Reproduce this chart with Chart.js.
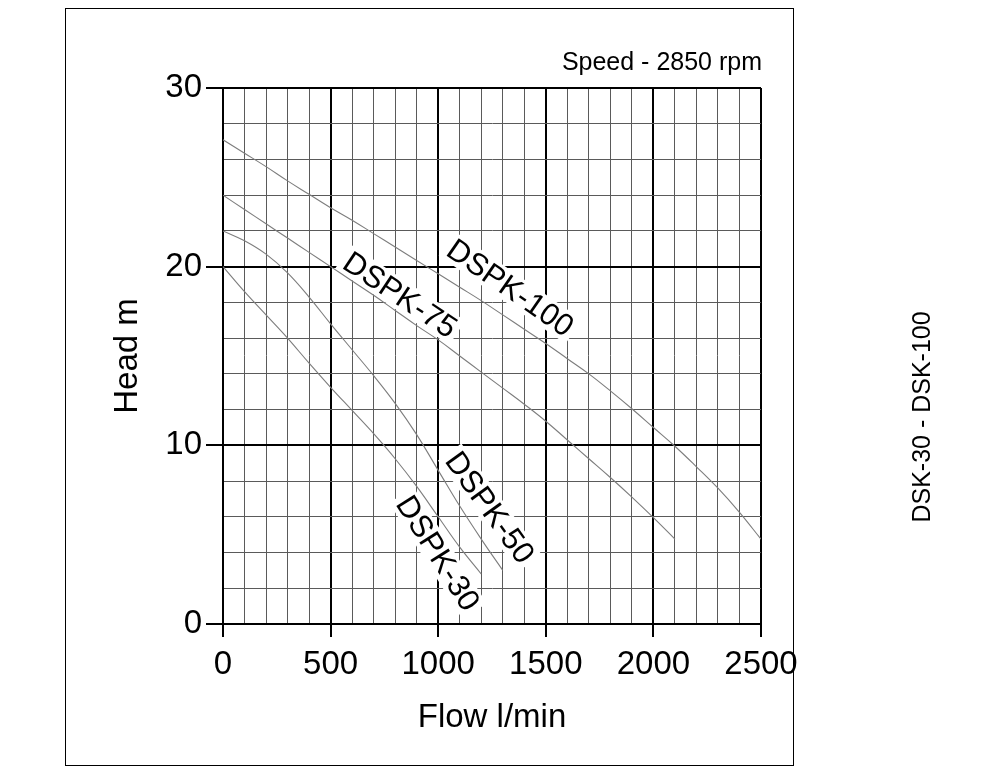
<!DOCTYPE html>
<html><head><meta charset="utf-8">
<script src="https://cdn.jsdelivr.net/npm/chart.js@4/dist/chart.umd.min.js"></script>
<style>html,body{margin:0;padding:0;background:#fff}canvas{display:block}</style>
</head><body>
<canvas id="c" width="1000" height="772"></canvas>
<script>
// ---- data ----
const seriesNames = ['DSPK-30', 'DSPK-50', 'DSPK-75', 'DSPK-100'];

const flow30 = [0, 100, 200, 300, 400, 500, 600, 700, 800, 900, 1000, 1100, 1200];
const head30 = [20.0, 18.6, 17.3, 16.0, 14.6, 13.25, 11.95, 10.65, 9.25, 7.7, 6.0, 4.3, 2.8];

const flow50 = [0, 100, 200, 300, 400, 500, 600, 700, 800, 900, 1000, 1100, 1200, 1300];
const head50 = [22.0, 21.45, 20.7, 19.65, 18.3, 16.8, 15.35, 13.9, 12.35, 10.6, 8.6, 6.6, 4.75, 3.0];

const flow75 = [0, 100, 200, 300, 400, 500, 600, 700, 800, 900, 1000, 1100, 1200, 1300, 1400, 1500, 1600, 1700, 1800, 1900, 2000, 2100];
const head75 = [24.0, 23.2, 22.4, 21.6, 20.8, 20.0, 19.2, 18.4, 17.55, 16.7, 15.9, 15.0, 14.1, 13.2, 12.3, 11.35, 10.3, 9.25, 8.2, 7.1, 5.95, 4.75];

const flow100 = [0, 100, 200, 300, 400, 500, 600, 700, 800, 900, 1000, 1100, 1200, 1300, 1400, 1500, 1600, 1700, 1800, 1900, 2000, 2100, 2200, 2300, 2400, 2500];
const head100 = [27.1, 26.35, 25.6, 24.8, 24.05, 23.3, 22.6, 21.85, 21.1, 20.35, 19.6, 18.85, 18.1, 17.3, 16.5, 15.7, 14.85, 14.0, 13.05, 12.05, 11.0, 9.95, 8.8, 7.6, 6.25, 4.75];

const xTickLabels = [0, 500, 1000, 1500, 2000, 2500];
const yTickLabels = [0, 10, 20, 30];

// curve label anchors (in data units) and text angles
const labelFlow = [997, 1238, 822, 1334];
const labelHead = [3.95, 6.5, 18.4, 18.8];
const labelAngle = [57.8, 54.2, 33.7, 34.8];

const speedText = 'Speed - 2850 rpm';
const sideText = 'DSK-30 - DSK-100';
const xTitle = 'Flow l/min';
const yTitle = 'Head m';

// ---- chart ----
const FONT = '"Liberation Sans", Arial, Helvetica, sans-serif';
const toPts = (xs, ys) => xs.map((v, i) => ({x: v, y: ys[i]}));
const flows = [flow30, flow50, flow75, flow100];
const heads = [head30, head50, head75, head100];

const curveLabels = {
  id: 'curveLabels',
  beforeDatasetsDraw(chart) {
    const {ctx, scales: {x, y}} = chart;
    ctx.save();
    ctx.font = '31px ' + FONT;
    ctx.textAlign = 'center';
    ctx.textBaseline = 'middle';
    seriesNames.forEach((n, i) => {
      const px = x.getPixelForValue(labelFlow[i]);
      const py = y.getPixelForValue(labelHead[i]);
      ctx.save();
      ctx.translate(px, py);
      ctx.rotate(labelAngle[i] * Math.PI / 180);
      const w = ctx.measureText(n).width;
      ctx.fillStyle = '#fff';
      ctx.fillRect(-w / 2 - 4, -15, w + 8, 29);
      ctx.fillStyle = '#000';
      ctx.fillText(n, 0, 1);
      ctx.restore();
    });
    ctx.restore();
  }
};

const extras = {
  id: 'extras',
  afterDraw(chart) {
    const {ctx, chartArea} = chart;
    ctx.save();
    ctx.fillStyle = '#000';
    ctx.font = '25px ' + FONT;
    ctx.textAlign = 'right';
    ctx.textBaseline = 'alphabetic';
    ctx.fillText(speedText, chartArea.right + 1, chartArea.top - 18);
    ctx.save();
    ctx.translate(930, 417);
    ctx.rotate(-Math.PI / 2);
    ctx.font = '25px ' + FONT;
    ctx.textAlign = 'center';
    ctx.fillText(sideText, 0, 0);
    ctx.restore();
    ctx.strokeStyle = '#000';
    ctx.lineWidth = 1;
    ctx.strokeRect(65.5, 8.5, 728, 757);
    ctx.restore();
  }
};

new Chart(document.getElementById('c'), {
  type: 'line',
  data: {
    datasets: seriesNames.map((n, i) => ({
      label: n,
      data: toPts(flows[i], heads[i]),
      borderColor: '#7d7d7d',
      borderWidth: 1.1,
      pointRadius: 0,
      fill: false,
      tension: 0.4
    }))
  },
  options: {
    responsive: false,
    animation: false,
    devicePixelRatio: 1,
    layout: {padding: {left: 0, top: 88, right: 239, bottom: 0}},
    plugins: {legend: {display: false}, tooltip: {enabled: false}},
    scales: {
      x: {
        type: 'linear', min: 0, max: 2500,
        ticks: {
          stepSize: 100, autoSkip: false, maxRotation: 0, minRotation: 0,
          color: '#000', font: {family: FONT, size: 33}, padding: 8,
          callback: v => xTickLabels.includes(v) ? String(v) : ''
        },
        grid: {
          color: c => (c.tick && c.tick.value % 500 === 0) ? '#000' : '#5a5a5a',
          lineWidth: c => (c.tick && c.tick.value % 500 === 0) ? 2 : 1,
          tickColor: c => (c.tick && c.tick.value % 500 === 0) ? '#000' : 'rgba(0,0,0,0)',
          tickLength: 13, tickWidth: 2
        },
        border: {color: '#000', width: 2},
        title: {display: true, text: xTitle, color: '#000', font: {family: FONT, size: 33}, padding: {top: 0, bottom: 34}},
        afterFit(s) { s.height = 148; }
      },
      y: {
        type: 'linear', min: 0, max: 30,
        ticks: {
          stepSize: 2, autoSkip: false,
          color: '#000', font: {family: FONT, size: 33}, padding: 4,
          callback: v => yTickLabels.includes(v) ? String(v) : ''
        },
        grid: {
          color: c => (c.tick && c.tick.value % 10 === 0) ? '#000' : '#5a5a5a',
          lineWidth: c => (c.tick && c.tick.value % 10 === 0) ? 2 : 1,
          tickColor: c => (c.tick && c.tick.value % 10 === 0) ? '#000' : 'rgba(0,0,0,0)',
          tickLength: 17, tickWidth: 2
        },
        border: {color: '#000', width: 2},
        title: {display: true, text: yTitle, color: '#000', font: {family: FONT, size: 33}, padding: {top: 108, bottom: 0}},
        afterFit(s) { s.width = 223; }
      }
    }
  },
  plugins: [curveLabels, extras]
});
</script>
</body></html>
